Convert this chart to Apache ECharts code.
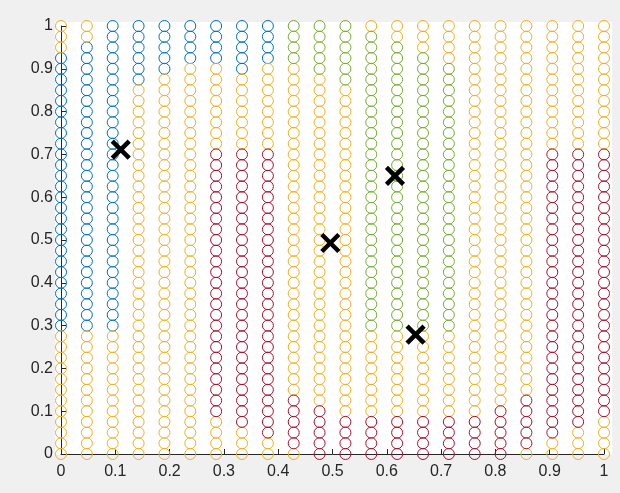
<!DOCTYPE html>
<html><head><meta charset="utf-8">
<script src="https://cdn.jsdelivr.net/npm/echarts@6/dist/echarts.min.js"></script>
<style>html,body{margin:0;padding:0;background:#f0f0f0;overflow:hidden;} #c{width:620px;height:493px;}</style>
</head><body><div id="c"></div>
<script>
// Grid positions of the sample points
const xValues = [0, 0.0476, 0.0952, 0.1429, 0.1905, 0.2381, 0.2857, 0.3333, 0.381, 0.4286, 0.4762,
  0.5238, 0.5714, 0.619, 0.6667, 0.7143, 0.7619, 0.8095, 0.8571, 0.9048, 0.9524, 1];
const yValues = [1, 0.975, 0.95, 0.925, 0.9, 0.875, 0.85, 0.825, 0.8, 0.775, 0.75, 0.725, 0.7, 0.675,
  0.65, 0.625, 0.6, 0.575, 0.55, 0.525, 0.5, 0.475, 0.45, 0.425, 0.4, 0.375, 0.35, 0.325, 0.3, 0.275,
  0.25, 0.225, 0.2, 0.175, 0.15, 0.125, 0.1, 0.075, 0.05, 0.025, 0];
// Cluster label runs per column, from top (y=1) downward: [cluster, count]
const columnRuns = [
  [['Y',3],['B',26],['Y',12]],
  [['Y',2],['B',27],['Y',12]],
  [['B',29],['Y',12]],
  [['B',6],['Y',35]],
  [['B',5],['Y',36]],
  [['B',4],['Y',37]],
  [['B',4],['Y',8],['R',25],['Y',4]],
  [['B',5],['Y',7],['R',26],['Y',3]],
  [['B',4],['Y',8],['R',27],['Y',2]],
  [['G',4],['Y',31],['R',5],['Y',1]],
  [['G',5],['Y',31],['R',5]],
  [['G',6],['Y',31],['R',4]],
  [['Y',1],['G',28],['Y',8],['R',4]],
  [['Y',2],['G',27],['Y',8],['R',4]],
  [['Y',3],['G',26],['Y',8],['R',4]],
  [['Y',4],['G',25],['Y',8],['R',4]],
  [['Y',37],['R',4]],
  [['Y',36],['R',5]],
  [['Y',35],['R',5],['Y',1]],
  [['Y',12],['R',27],['Y',2]],
  [['Y',12],['R',26],['Y',3]],
  [['Y',12],['R',25],['Y',4]]
];
const clusterOrder = ['B','Y','G','R'];
const clusterColors = {B:'#0072BD', Y:'#EDB120', G:'#77AC30', R:'#A2142F'};
const centroidX = [0.110, 0.496, 0.615, 0.653];
const centroidY = [0.711, 0.493, 0.650, 0.279];

const pts = {B:[], Y:[], G:[], R:[]};
columnRuns.forEach((runs, ci) => {
  let r = 0;
  runs.forEach(([k, n]) => {
    for (let j = 0; j < n; j++) { pts[k].push([xValues[ci], yValues[r]]); r++; }
  });
});

const series = clusterOrder.map(k => ({
  type: 'scatter', data: pts[k], symbol: 'circle', symbolSize: 11,
  itemStyle: {color: 'rgba(0,0,0,0)', borderColor: clusterColors[k], borderWidth: 1, opacity: 1},
  emphasis: {disabled: true}, silent: true, z: 2
}));
series.push({
  type: 'scatter', data: centroidX.map((x, i) => [x, centroidY[i]]),
  symbol: 'path://M0,0L10,10M10,0L0,10', symbolSize: 17,
  itemStyle: {color: 'none', borderColor: '#000', borderWidth: 4.5, opacity: 1},
  emphasis: {disabled: true}, silent: true, z: 5
});

const axisCommon = {
  type: 'value', min: 0, max: 1, interval: 0.1,
  axisLine: {show: true, onZero: false, lineStyle: {color: '#262626', width: 1}},
  axisTick: {show: true, inside: true, length: 5, lineStyle: {color: '#262626', width: 1}},
  splitLine: {show: false},
  axisLabel: {color: '#262626', fontSize: 16, fontFamily: 'Liberation Sans, Arial, sans-serif'}
};

const chart = echarts.init(document.getElementById('c'), null, {renderer: 'canvas'});
chart.setOption({
  backgroundColor: '#f0f0f0',
  animation: false,
  graphic: [{type: 'rect', z: -10, silent: true, shape: {x: 55, y: 22, width: 557, height: 433}, style: {fill: '#ffffff'}}],
  grid: {left: 61, right: 16, top: 26, bottom: 39},
  xAxis: Object.assign({}, axisCommon, {axisLabel: Object.assign({}, axisCommon.axisLabel, {margin: 10})}),
  yAxis: Object.assign({}, axisCommon, {axisLabel: Object.assign({}, axisCommon.axisLabel, {margin: 8})}),
  series: series
});
</script></body></html>
